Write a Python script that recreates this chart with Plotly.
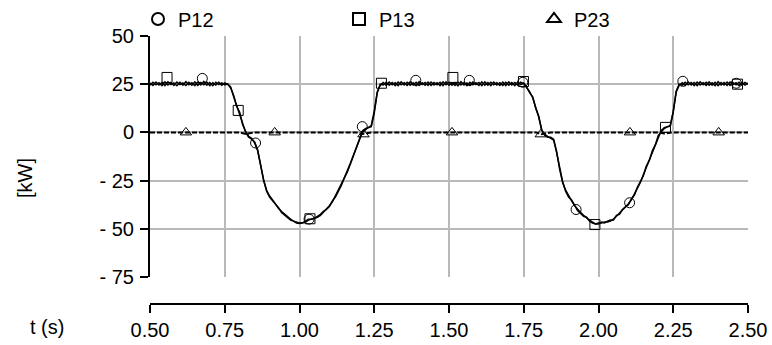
import plotly.graph_objects as go

# ---- data ----
T_START = 0.50
T_STEP = 0.01

P12 = [
    # 0.50 - 0.76
    25.6, 24.4, 26.1, 24.6, 25.9, 24.3, 26.2, 24.8, 25.7, 24.2,
    26.0, 24.5, 26.3, 24.7, 25.8, 24.3, 26.1, 24.6, 26.4, 24.5,
    25.9, 24.2, 26.0, 24.8, 25.7, 24.6, 25.2,
    # 0.77 - 1.27
    23.5, 18.5, 14.0, 10.0, 4.5, 0.0, -2.5, -3.5, -5.0, -9.0,
    -17.0, -25.0, -30.0, -33.0, -35.0, -37.5, -39.5, -41.0, -42.5, -44.0,
    -45.0, -46.0, -47.0, -47.3, -46.8, -46.5, -45.5, -45.0, -44.5, -44.0,
    -43.0, -41.5, -40.0, -38.0, -36.0, -33.0, -30.0, -27.0, -24.0, -20.5,
    -16.5, -12.5, -8.5, -4.0, 0.5, 2.0, 2.5, 3.0, 10.0, 21.0,
    24.5,
    # 1.28 - 1.75
    25.9, 24.4, 26.1, 24.7, 25.8, 24.3, 26.2, 24.6, 26.0, 24.5,
    25.7, 24.2, 26.3, 24.8, 25.9, 24.4, 26.1, 24.6, 25.8, 24.3,
    26.2, 24.7, 26.0, 24.5, 25.9, 24.2, 26.3, 24.6, 25.7, 24.4,
    26.1, 24.8, 25.9, 24.3, 26.2, 24.5, 26.0, 24.7, 25.8, 24.4,
    26.1, 24.3, 26.2, 24.6, 25.9, 24.5, 26.0, 25.2,
    # 1.76 - 2.27
    23.0, 21.0, 18.0, 13.0, 8.0, 1.5, -1.5, -2.5, -2.5, -3.5,
    -10.0, -19.0, -26.0, -30.0, -33.0, -35.5, -38.0, -40.0, -41.5, -43.0,
    -44.5, -45.5, -46.5, -47.5, -47.0, -47.0, -46.5, -46.5, -46.0, -45.0,
    -43.5, -42.0, -40.5, -39.0, -37.0, -35.0, -32.0, -29.0, -26.0, -22.0,
    -18.0, -14.0, -10.0, -6.0, -2.0, 1.0, 2.5, 3.0, 3.2, 11.0,
    21.0, 24.5,
    # 2.28 - 2.50
    25.8, 24.4, 26.1, 24.6, 25.9, 24.3, 26.2, 24.7, 26.0, 24.5,
    25.7, 24.2, 26.3, 24.6, 25.9, 24.4, 26.1, 24.8, 25.8, 24.3,
    26.0, 24.6, 25.5,
]

P13 = [
    # 0.50 - 0.76
    24.5, 26.0, 24.7, 25.8, 24.3, 26.2, 24.6, 25.9, 24.4, 26.1,
    24.8, 25.7, 24.3, 26.0, 24.5, 26.2, 24.4, 25.9, 24.7, 26.1,
    24.3, 25.8, 24.6, 26.0, 24.5, 25.7, 24.9,
    # 0.77 - 1.27
    23.0, 19.0, 13.5, 10.5, 4.0, 0.5, -2.0, -3.0, -5.5, -9.5,
    -17.5, -24.5, -30.5, -33.5, -35.5, -37.0, -39.0, -41.5, -43.0, -44.0,
    -45.5, -46.0, -46.5, -47.0, -47.0, -46.0, -45.0, -45.0, -44.5, -43.5,
    -42.5, -41.0, -40.0, -38.5, -35.5, -33.5, -30.5, -27.5, -23.5, -20.0,
    -16.0, -12.0, -8.0, -3.5, 0.0, 1.5, 2.5, 3.5, 11.0, 20.5,
    25.0,
    # 1.28 - 1.75
    24.6, 26.0, 24.5, 25.9, 24.3, 26.1, 24.7, 25.8, 24.4, 26.2,
    24.6, 26.0, 24.3, 25.7, 24.5, 26.1, 24.4, 25.9, 24.7, 26.0,
    24.3, 26.2, 24.5, 25.8, 24.4, 26.1, 24.6, 25.9, 24.3, 26.0,
    24.7, 25.8, 24.4, 26.2, 24.5, 25.9, 24.3, 26.1, 24.6, 25.8,
    24.4, 26.0, 24.5, 25.9, 24.3, 26.1, 24.8, 25.6,
    # 1.76 - 2.27
    23.5, 20.5, 18.5, 12.5, 8.5, 1.0, -1.0, -2.0, -3.0, -4.0,
    -10.5, -18.5, -25.5, -30.5, -33.5, -35.0, -37.5, -40.5, -42.0, -43.5,
    -44.0, -46.0, -47.0, -47.5, -47.5, -46.5, -47.0, -46.0, -45.5, -45.5,
    -43.0, -42.5, -40.0, -38.5, -37.5, -34.5, -32.5, -28.5, -25.5, -22.5,
    -17.5, -14.5, -9.5, -6.5, -1.5, 0.5, 2.0, 3.0, 3.5, 10.5,
    21.5, 25.0,
    # 2.28 - 2.50
    24.5, 26.0, 24.7, 25.9, 24.3, 26.1, 24.6, 25.8, 24.4, 26.2,
    24.5, 26.0, 24.3, 25.9, 24.6, 26.1, 24.4, 25.8, 24.7, 26.0,
    24.5, 25.9, 25.0,
]

P23_T = [0.50, 0.80, 0.82, 0.85, 1.19, 1.21, 1.24, 1.79, 1.81, 1.84, 2.20, 2.22, 2.25, 2.50]
P23 = [0.0, 0.0, -0.8, 0.0, 0.0, -0.8, 0.0, 0.0, -0.9, 0.0, 0.0, -0.6, 0.0, 0.0]

# markers
P12_MT = [0.675, 0.853, 1.032, 1.210, 1.389, 1.568, 1.747, 1.925, 2.104, 2.282, 2.461]
P12_MV = [28.0, -5.5, -45.0, 3.0, 27.0, 27.0, 26.0, -40.0, -36.5, 26.5, 25.5]
P13_MT = [0.557, 0.795, 1.035, 1.274, 1.513, 1.749, 1.988, 2.224, 2.465]
P13_MV = [28.5, 11.4, -44.8, 25.5, 28.5, 26.4, -47.8, 2.6, 25.0]
P23_MT = [0.620, 0.917, 1.214, 1.510, 1.807, 2.105, 2.402]
P23_MV = [0.0, 0.0, -1.0, 0.0, -1.0, 0.0, 0.0]

X_TICKS = [0.50, 0.75, 1.00, 1.25, 1.50, 1.75, 2.00, 2.25, 2.50]
Y_TICKS = [-75, -50, -25, 0, 25, 50]
Y_TICKTEXT = ["- 75", "- 50", "- 25", "0", "25", "50"]

assert len(P12) == 201 and len(P13) == 201
t = [round(T_START + i * T_STEP, 2) for i in range(len(P12))]

FONT = "Liberation Sans, Arial, sans-serif"
FS = 20
fig = go.Figure()

line_style = dict(color="black", width=1.5)
fig.add_trace(go.Scatter(x=t, y=P13, mode="lines", line=line_style, showlegend=False, hoverinfo="skip"))
fig.add_trace(go.Scatter(x=t, y=P12, mode="lines", line=line_style, showlegend=False, hoverinfo="skip"))
fig.add_trace(go.Scatter(x=P23_T, y=P23, mode="lines", line=dict(color="black", width=2, dash="5px,2px"),
                         showlegend=False, hoverinfo="skip"))

mk = dict(color="black", size=10, line=dict(color="black", width=1))
fig.add_trace(go.Scatter(x=P12_MT, y=P12_MV, mode="markers", name="P12",
                         marker=dict(mk, symbol="circle-open"), legend="legend"))
fig.add_trace(go.Scatter(x=P13_MT, y=P13_MV, mode="markers", name="P13",
                         marker=dict(mk, symbol="square-open"), legend="legend2"))
fig.add_trace(go.Scatter(x=P23_MT, y=P23_MV, mode="markers", name="P23",
                         marker=dict(mk, symbol="triangle-up-open"), legend="legend3"))

# geometry (pixels)
L, R, TOP, XAXIS_Y, PLOT_BOTTOM = 150, 748, 36, 304, 277
W, H = 772, 345
pw, ph = R - L, XAXIS_Y - TOP
def px(xp):
    return (xp - L) / pw
def py(yp):
    return (XAXIS_Y - yp) / ph

leg_common = dict(orientation="h", xanchor="left", yanchor="middle", bgcolor="rgba(0,0,0,0)",
                  font=dict(family=FONT, size=FS, color="black"), itemsizing="constant")
fig.update_layout(
    width=W, height=H,
    margin=dict(l=L, r=W - R, t=TOP, b=H - XAXIS_Y, pad=0, autoexpand=False),
    paper_bgcolor="white", plot_bgcolor="white",
    font=dict(family=FONT, size=FS, color="black"),
    legend=dict(leg_common, x=px(168 - 30), y=py(19)),
    legend2=dict(leg_common, x=px(369 - 30), y=py(19)),
    legend3=dict(leg_common, x=px(564 - 30), y=py(19)),
    xaxis=dict(range=[0.5, 2.5], tickvals=X_TICKS, tickformat=".2f",
               anchor="free", position=0,
               showline=True, linecolor="black", linewidth=1.5,
               ticks="outside", ticklen=8, tickwidth=1.5, tickcolor="black",
               showgrid=True, gridcolor="#b9b9b9", gridwidth=1.5, zeroline=False,
               ticklabelstandoff=0),
    yaxis=dict(range=[-75, 50], tickvals=Y_TICKS, ticktext=Y_TICKTEXT,
               domain=[(XAXIS_Y - PLOT_BOTTOM) / ph, 1],
               showline=True, linecolor="black", linewidth=2,
               ticks="outside", ticklen=8, tickwidth=1.5, tickcolor="black",
               showgrid=True, gridcolor="#b9b9b9", gridwidth=1.5, zeroline=False,
               ticklabelstandoff=2),
    annotations=[
        dict(text="[kW]", x=px(25), y=py(178), xref="paper", yref="paper", showarrow=False,
             xanchor="center", yanchor="middle",
             textangle=-90, font=dict(family=FONT, size=FS)),
        dict(text="t (s)", x=px(47), y=py(327), xref="paper", yref="paper", showarrow=False,
             xanchor="center", yanchor="middle",
             font=dict(family=FONT, size=FS)),
    ],
)

fig.write_html("out.html")
